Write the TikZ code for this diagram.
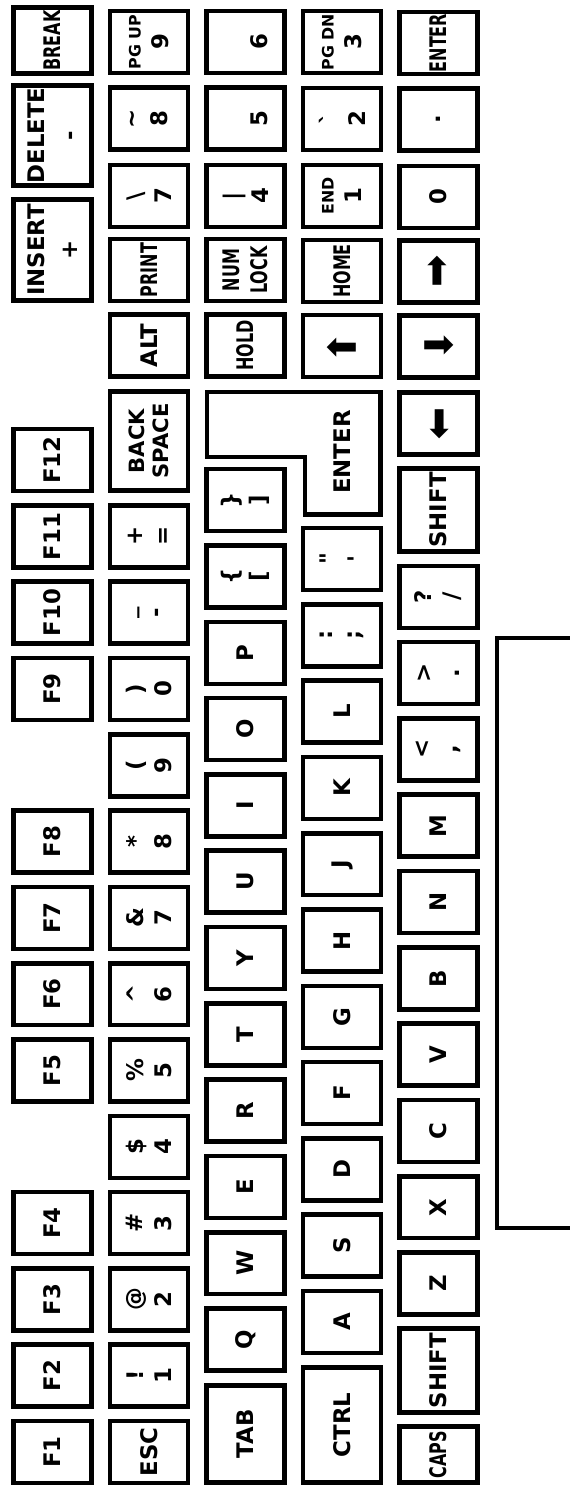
\documentclass[tikz,border=0pt]{standalone}
\usepackage{fontspec}
\setmainfont{DejaVu Sans}
\usepackage{tikz}

\newcommand{\keysqueeze}[1]{\scalebox{0.7}[1]{#1}}
\newcommand{\keysmall}[1]{{\fontsize{9}{11}\selectfont #1}}
\newcommand{\keyarrow}[1]{\rotatebox{#1}{\fontsize{22}{22}\selectfont\mdseries ➡}}

\begin{document}
\begin{tikzpicture}[x=0.02cm, y=-0.02cm]
        \tikzstyle{key}=[draw, rectangle, rotate=90, line width=2.6pt, inner sep=0pt, align=center, minimum width=1.24cm, minimum height=1.56cm, font=\fontsize{13}{16}\selectfont\bfseries]
        \tikzstyle{keyline}=[line width=2.6pt, line join=miter]
        \useasboundingbox (0,0) rectangle (570,1488);
        % function row
        \foreach \k/\t in {0/F1,1/F2,2/F3,3/F4,5/F5,6/F6,7/F7,8/F8,10/F9,11/F10,12/F11,13/F12}
          \node[key] (\t) at (52.5,{1452-76.3*\k}) {\t};
        \node[key, minimum width=1.32cm] (break) at (52.5,40.5) {\keysqueeze{BREAK}};
        \node[key, minimum width=2.0cm] (delete) at (52.5,135.5) {DELETE\\[3pt]-};
        \node[key, minimum width=2.02cm] (insert) at (52.5,250) {INSERT\\[3pt]+};
        % number row
        \node[key] (esc) at (149,1452) {ESC};
        \foreach \k/\t in {1/!\\1,2/@\\2,3/\#\\3,4/\$\\4,5/\%\\5,6/\textasciicircum\\6,7/\&\\7,8/*\\8,9/(\\9,10/)\\0,11/\_\\-,12/+\\=}
          \node[key] (num\k) at (149,{1452-76.3*\k}) {\t};
        \node[key, minimum width=1.98cm, font=\fontsize{12}{14}\selectfont\bfseries] (bksp) at (149,441) {BACK\\SPACE};
        \foreach \y/\t/\n in {42/\keysmall{PG UP}\\9/pgup,118.5/\textasciitilde\\8/kpeight,196/\textbackslash\\7/kpseven,270/\keysqueeze{PRINT}/print,345.5/ALT/alt}
          \node[key] (\n) at (149,\y) {\t};
        % top letter row
        \node[key, minimum width=1.94cm] (tab) at (245.5,1434) {TAB};
        \foreach \k/\t in {1/Q,2/W,3/E,4/R,5/T,6/Y,7/U,8/I,9/O,10/P,11/\{\\{[},12/\}\\{]}}
          \node[key] (q\k) at (245.5,{1415.8-76.3*\k}) {\t};
        \foreach \y/\t/\n in {42/\phantom{6}\\6/kpsix,118.5/\phantom{5}\\5/kpfive,196/\textbar\\4/kpfour,270/\keysqueeze{NUM}\\\keysqueeze{LOCK}/numlock,345.5/\keysqueeze{HOLD}/hold}
          \node[key] (\n) at (245.5,\y) {\t};
        % home row
        \node[key, minimum width=2.3cm] (ctrl) at (342,1425) {CTRL};
        \foreach \k/\t in {1/A,2/S,3/D,4/F,5/G,6/H,7/J,8/K,9/L,10/:\\;,11/\textquotedbl\\\textquotesingle}
          \node[key] (a\k) at (342,{1398.3-76.3*\k}) {\t};
        \draw[keyline] (207,392) -- (380.5,392) -- (380.5,514.5) -- (305,514.5) -- (305,457) -- (207,457) -- cycle;
        \node[rotate=90, font=\fontsize{13}{16}\selectfont\bfseries] (enter) at (342,452) {ENTER};
        \foreach \y/\t/\n in {42/\keysmall{PG DN}\\3/pgdn,119/\textasciigrave\\2/kptwo,196/\keysmall{END}\\1/kpone,271/\keysqueeze{HOME}/home,346/\keyarrow{90}/up}
          \node[key] (\n) at (342,\y) {\t};
        % bottom letter row
        \node[key, minimum width=1.12cm] (caps) at (438.5,1454.5) {\keysqueeze{CAPS}};
        \node[key, minimum width=1.68cm] (lshift) at (438.5,1370.5) {SHIFT};
        \foreach \k/\t in {1/Z,2/X,3/C,4/V,5/B,6/N,7/M,8/<\\{,},9/>\\.,10/?\\{/}}
          \node[key] (z\k) at (438.5,{1359.8-76.3*\k}) {\t};
        \node[key, minimum width=1.66cm] (rshift) at (438.5,510) {SHIFT};
        \foreach \y/\t/\n in {43/\keysqueeze{ENTER}/kpenter,119.5/./kpdot,197/0/kpzero,271.5/\keyarrow{0}/right,346.5/\keyarrow{-90}/down,423.5/\keyarrow{180}/left}
          \node[key] (\n) at (438.5,\y) {\t};
        % space bar
        \draw[keyline] (572,638) -- (497,638) -- (497,1228) -- (572,1228);
\end{tikzpicture}
\end{document}
